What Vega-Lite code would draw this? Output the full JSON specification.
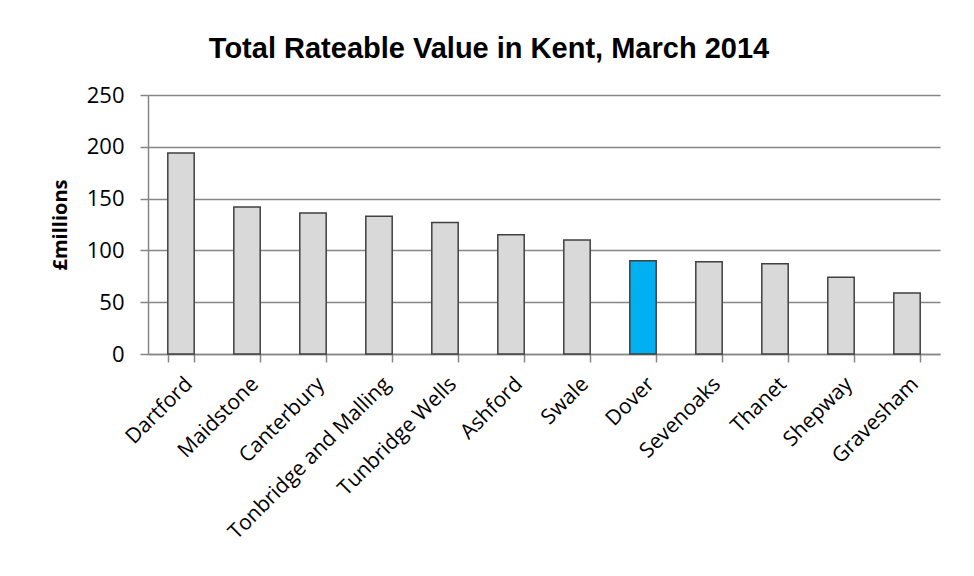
{
  "$schema": "https://vega.github.io/schema/vega-lite/v6.json",
  "width": 792,
  "height": 259,
  "autosize": {"type": "none"},
  "padding": {"left": 148, "top": 95, "right": 34, "bottom": 222},
  "background": "white",
  "title": {
    "text": "Total Rateable Value in Kent, March 2014",
    "font": "Liberation Sans",
    "fontSize": 29,
    "fontWeight": "bold",
    "color": "#000000",
    "anchor": "middle",
    "dx": -55,
    "offset": 20
  },
  "data": {
    "values": [
      {"district": "Dartford", "value": 194},
      {"district": "Maidstone", "value": 142},
      {"district": "Canterbury", "value": 136},
      {"district": "Tonbridge and Malling", "value": 133},
      {"district": "Tunbridge Wells", "value": 127},
      {"district": "Ashford", "value": 115},
      {"district": "Swale", "value": 110},
      {"district": "Dover", "value": 90},
      {"district": "Sevenoaks", "value": 89},
      {"district": "Thanet", "value": 87},
      {"district": "Shepway", "value": 74},
      {"district": "Gravesham", "value": 59}
    ]
  },
  "mark": {"type": "bar", "stroke": "#404040", "strokeWidth": 1.5},
  "encoding": {
    "x": {
      "field": "district",
      "type": "nominal",
      "sort": null,
      "scale": {"paddingInner": 0.6, "paddingOuter": 0.3},
      "axis": {
        "title": null,
        "labelAngle": -45,
        "labelFont": "Open Sans",
        "labelFontSize": 21,
        "labelColor": "#000000",
        "labelPadding": 11,
        "labelDx": -3,
        "labelLimit": 0,
        "tickBand": "extent",
        "tickSize": 8,
        "tickColor": "#868686",
        "tickWidth": 1.5,
        "domainColor": "#868686",
        "domainWidth": 1.5,
        "grid": false
      }
    },
    "y": {
      "field": "value",
      "type": "quantitative",
      "scale": {"domain": [0, 250]},
      "axis": {
        "title": "£millions",
        "titleFont": "Open Sans",
        "titleFontSize": 20,
        "titleFontWeight": "bold",
        "titleColor": "#000000",
        "titlePadding": 16,
        "values": [0, 50, 100, 150, 200, 250],
        "labelFont": "Open Sans",
        "labelFontSize": 22,
        "labelColor": "#000000",
        "labelPadding": 16,
        "tickSize": 8,
        "tickColor": "#868686",
        "tickWidth": 1.5,
        "domainColor": "#868686",
        "domainWidth": 1.5,
        "gridColor": "#868686",
        "gridWidth": 1.5
      }
    },
    "fill": {
      "condition": {"test": "datum.district === 'Dover'", "value": "#00B0F0"},
      "value": "#D9D9D9"
    }
  },
  "config": {"view": {"stroke": null}}
}
